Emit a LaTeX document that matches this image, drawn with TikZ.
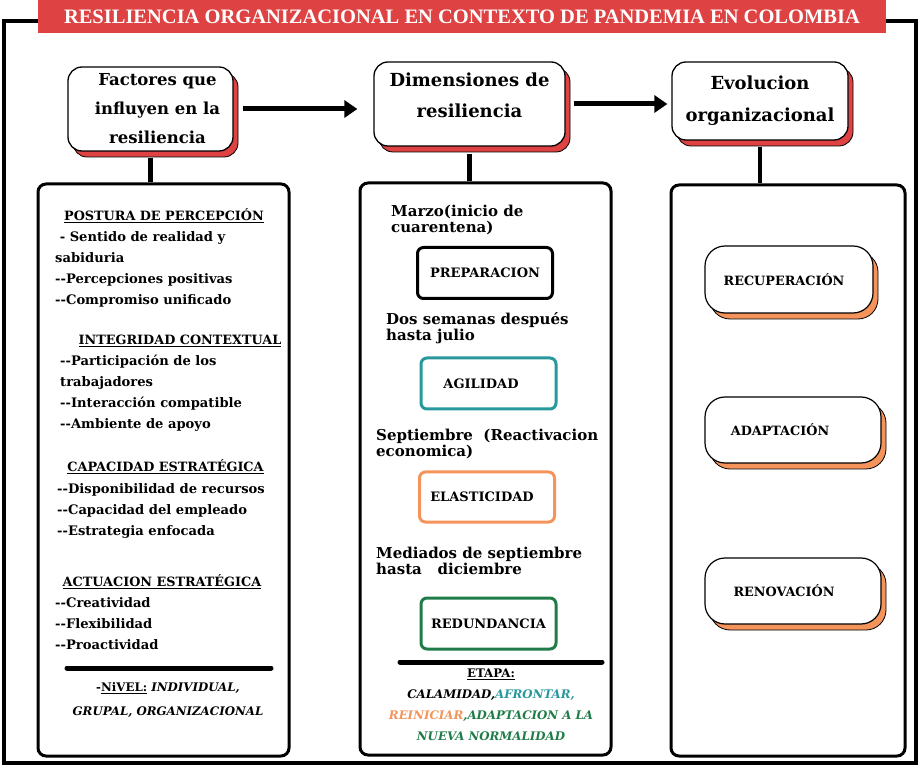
\documentclass[tikz,border=0pt]{standalone}
\usepackage{fontspec}
\setmainfont{DejaVu Serif}
\newfontfamily\titlefont{Liberation Serif}
\usetikzlibrary{arrows.meta,shadows}
\definecolor{rojo}{RGB}{222,66,66}
\definecolor{turquesa}{RGB}{40,152,156}
\definecolor{naranja}{RGB}{244,147,90}
\definecolor{verde}{RGB}{31,124,72}
\begin{document}
\begin{tikzpicture}[x=1pt,y=-1pt,
    cabecera/.style={draw,line width=1.3pt,fill=white,rounded corners=14pt,inner sep=0pt,align=center,
        copy shadow={shadow xshift=5pt,shadow yshift=-6pt,fill=rojo,draw=black,line width=0.8pt}},
    columna/.style={draw,line width=3pt,rounded corners=8pt,inner sep=0pt,minimum width=251pt,minimum height=572pt},
    etapa/.style={draw,line width=3pt,rounded corners=6pt,inner sep=0pt,minimum width=135pt,minimum height=51pt,
        font=\bfseries\fontsize{13}{15}\selectfont},
    fase/.style={draw,line width=1.2pt,fill=white,rounded corners=20pt,inner sep=0pt,minimum width=176pt,minimum height=66pt,
        font=\bfseries\fontsize{12.8}{15}\selectfont,
        copy shadow={shadow xshift=5pt,shadow yshift=-6pt,fill=naranja,draw=black,line width=0.8pt}},
    titulo/.style={font=\bfseries\fontsize{12.8}{21}\selectfont,inner sep=0pt},
    lista/.style={font=\bfseries\fontsize{13.1}{21}\selectfont,inner sep=0pt,align=left,anchor=west},
    fecha/.style={font=\bfseries\fontsize{15}{15.5}\selectfont,inner sep=0pt,align=left,anchor=west},
    linea/.style={line width=4.5pt},
    flecha/.style={line width=5pt,-{Triangle[length=13pt,width=17pt]}}]
    \useasboundingbox (0,0) rectangle (922,767);

    \draw[line width=4pt] (40,21) -- (4,21) -- (4,763) -- (916,763) -- (916,21) -- (884,21);
    \node[fill=rojo,minimum width=848pt,minimum height=33pt,inner sep=0pt,text=white,
        font=\titlefont\bfseries\fontsize{20.5}{20.5}\selectfont] (banner) at (462,16.5)
        {RESILIENCIA ORGANIZACIONAL EN CONTEXTO DE PANDEMIA EN COLOMBIA};

    \node[cabecera,minimum width=165pt,minimum height=84pt,font=\bfseries\fontsize{16.5}{29}\selectfont] (factores) at (150.5,109)
        {\hspace*{14pt}Factores que\\\hspace*{14pt}influyen en la\\\hspace*{14pt}resiliencia};
    \node[cabecera,minimum width=191pt,minimum height=84pt,font=\bfseries\fontsize{18}{31}\selectfont] (dimensiones) at (469.5,104)
        {Dimensiones de\\resiliencia\\[-14pt]\mbox{}};
    \node[cabecera,minimum width=176pt,minimum height=78pt,font=\bfseries\fontsize{18}{32}\selectfont] (evolucion) at (760,101)
        {Evolucion\\organizacional};

    \draw[flecha,shorten <=9pt,shorten >=16pt] (factores.east) -- (factores.east -| dimensiones.west);
    \draw[flecha,shorten <=8pt,shorten >=4pt] (dimensiones.east) -- (dimensiones.east -| evolucion.west);

    \node[columna] (col1) at (163.5,470) {};
    \node[columna] (col2) at (485.5,469) {};
    \node[columna,minimum width=234pt,minimum height=571pt] (col3) at (788,470.5) {};

    \draw[linea,shorten <=6pt] (factores.south) -- (factores.south |- col1.north);
    \draw[linea,shorten <=7pt] (dimensiones.south) -- (dimensiones.south |- col2.north);
    \draw[linea,shorten <=6pt] (evolucion.south) -- (evolucion.south |- col3.north);

    \node[titulo] (postura) at (164,216) {\underline{POSTURA DE PERCEPCIÓN}};
    \node[lista] (postura-l) at (55,269) {\ - Sentido de realidad y\\sabiduria\\-{}-Percepciones positivas\\-{}-Compromiso unificado};
    \node[titulo] (integridad) at (180,341) {\underline{INTEGRIDAD CONTEXTUAL}};
    \node[lista] (integridad-l) at (60,393.5) {-{}-Participación de los\\trabajadores\\-{}-Interacción compatible\\-{}-Ambiente de apoyo};
    \node[titulo] (capacidad) at (165.5,467) {\underline{CAPACIDAD ESTRATÉGICA}};
    \node[lista] (capacidad-l) at (57,511) {-{}-Disponibilidad de recursos\\-{}-Capacidad del empleado\\-{}-Estrategia enfocada};
    \node[titulo] (actuacion) at (162,582) {\underline{ACTUACION ESTRATÉGICA}};
    \node[lista] (actuacion-l) at (55,624) {-{}-Creatividad\\-{}-Flexibilidad\\-{}-Proactividad};
    \draw[line width=5pt,line cap=round] (67,668) -- (271,668);
    \node[titulo,align=center,font=\bfseries\fontsize{11.8}{24}\selectfont] (nivel) at (168,700)
        {-\underline{NiVEL:} \textit{INDIVIDUAL,}\\\textit{GRUPAL, ORGANIZACIONAL}};

    \node[fecha] (marzo) at (391,220) {Marzo(inicio de\\cuarentena)};
    \node[etapa] (prep) at (485,273) {PREPARACION};
    \node[fecha] (dos) at (386,328) {Dos semanas después\\hasta julio};
    \node[etapa,draw=turquesa] (agil) at (488.5,383.5) {AGILIDAD\kern15pt};
    \node[fecha] (sept) at (376,444) {Septiembre\ \ (Reactivacion\\economica)};
    \node[etapa,draw=naranja,minimum height=50pt] (elas) at (487,497) {ELASTICIDAD\kern10pt};
    \node[fecha] (mediados) at (376,561) {Mediados de septiembre\\hasta\ \ \ diciembre};
    \node[etapa,draw=verde] (redu) at (488.5,623.5) {REDUNDANCIA};
    \draw[line width=5pt,line cap=round] (400,662) -- (602,662);
    \node[titulo,align=center,font=\bfseries\fontsize{11.8}{21}\selectfont] (etapas) at (491,705)
        {\underline{ETAPA:}\\\textit{CALAMIDAD,\textcolor{turquesa}{AFRONTAR,}}\\
        \textit{\textcolor{naranja}{REINICIAR}\textcolor{verde}{,ADAPTACION A LA}}\\\textit{\textcolor{verde}{NUEVA NORMALIDAD}}};

    \node[fase,minimum width=168pt,minimum height=67pt] (recu) at (789,279.5) {RECUPERACIÓN\kern10pt};
    \node[fase] (adap) at (793,430) {ADAPTACIÓN\kern26pt};
    \node[fase] (reno) at (793,591) {RENOVACIÓN\kern18pt};
\end{tikzpicture}
\end{document}
